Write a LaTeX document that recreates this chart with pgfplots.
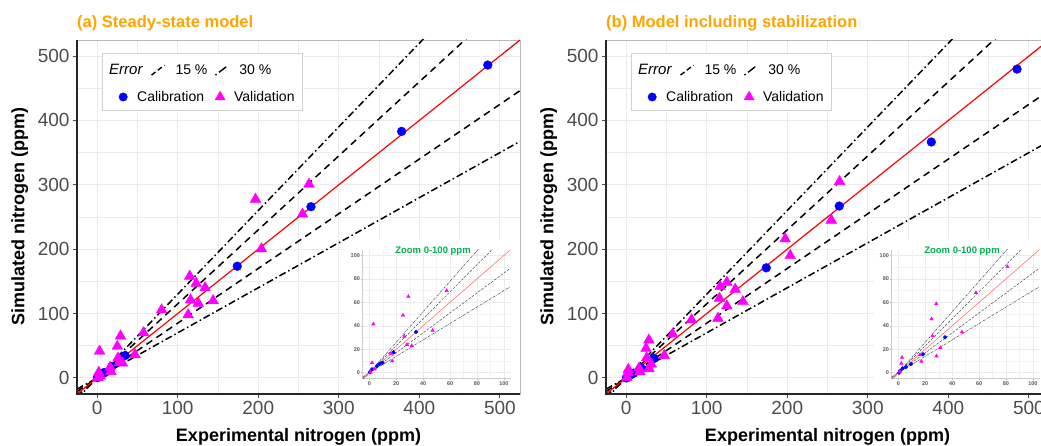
\documentclass[border=0pt]{standalone}
\usepackage{fontspec}
\setmainfont{Liberation Sans}
\usepackage{pgfplots}
\pgfplotsset{compat=1.18}
\usepackage{pgfplotstable}

\definecolor{ggblue}{RGB}{0,0,255}
\definecolor{ggmag}{RGB}{255,0,255}
\definecolor{ggorange}{RGB}{255,165,0}
\definecolor{gggreen}{RGB}{0,176,80}
\definecolor{gridc}{RGB}{235,235,235}
\definecolor{tickc}{RGB}{77,77,77}

% Panel (a): steady-state model
\pgfplotstableread{
x y
0.5 0.5
2 3
5.7 5.7
7.5 7.5
9.7 8.5
18 17.4
34.7 34.7
174 173.5
265.5 266
378 383
485 486
}\calibA
\pgfplotstableread{
x y
1 0.5
4 3
2 8.5
3 41.5
16 16.5
17 10
25 49
26 31
28 24
29 65
31.5 23
47 36
57.5 70
80 105.6
113 98
115 158
116 121
123 147
125.5 116
134 140
144 120
196.6 277.5
204 200.5
255 254.5
263 301
}\validA
% Panel (b): model including stabilization
\pgfplotstableread{
x y
0.5 0
1.2 1.7
3.2 3.7
5.7 4.9
9.4 7.4
18.3 15.7
34.7 30.2
174 171
264.6 267
378.9 366.5
485.3 479.8
}\calibB
\pgfplotstableread{
x y
1 1
2.2 8
2.7 13.1
16.1 15.3
17.1 9.7
24.7 45.8
25.5 31.3
28.2 58.8
28.4 14.2
31.2 21.3
47.3 34.7
57.7 68.2
81.1 90.4
114 92.6
115.9 123.7
116.8 141.8
125 148.6
125 111.8
135.4 137.7
145 118.5
197.5 216
203.7 190
254.7 245
265 305
}\validB

\pgfplotsset{
  mainax/.style={
    scale only axis, width=443pt, height=354pt, anchor=south west,
    xmin=-25, xmax=525, ymin=-25, ymax=525,
    xtick={0,100,...,500}, ytick={0,100,...,500},
    minor xtick={50,150,...,450}, minor ytick={50,150,...,450},
    grid=both,
    major grid style={draw=gridc, line width=0.9pt},
    minor grid style={draw=gridc, line width=0.45pt},
    tick pos=left, tick align=outside, major tick length=4pt, minor tick length=0pt,
    every tick/.style={draw=tickc, line width=0.9pt},
    axis line style={draw=gray!55, line width=0.8pt},
    tick label style={font=\fontsize{19}{19}\selectfont, text=tickc},
    /pgf/number format/assume math mode=true,
    xlabel={Experimental nitrogen (ppm)}, ylabel={Simulated nitrogen (ppm)},
    label style={font=\bfseries\fontsize{18}{18}\selectfont, text=black},
    xlabel style={at={(axis description cs:0.5,-0.135)}, anchor=base},
    ylabel style={at={(axis description cs:-0.129,0.5)}, anchor=center},
    clip=true,
  },
  insetax/.style={
    scale only axis, width=148pt, height=129pt, anchor=south west,
    xmin=-5, xmax=105, ymin=-5, ymax=105,
    xtick={0,20,...,100}, ytick={0,20,...,100},
    minor xtick={10,30,...,90}, minor ytick={10,30,...,90},
    grid=both,
    major grid style={draw=gridc, line width=0.5pt},
    minor grid style={draw=gridc!60!white, line width=0.3pt},
    axis lines=left, axis line style={-, draw=gray!40, line width=1.3pt},
    tick align=outside, major tick length=1.5pt, minor tick length=0pt,
    every tick/.style={draw=gray!60, line width=0.5pt},
    tick label style={font=\bfseries\fontsize{5.5}{5.5}\selectfont, text=gray!70!black, inner sep=1pt},
    /pgf/number format/assume math mode=true,
    clip=true,
  },
  legax/.style={
    hide axis, scale only axis, width=443pt, height=354pt, anchor=south west,
    xmin=0, xmax=1, ymin=0, ymax=1,
  },
  dashedl/.style={dash pattern=on 7pt off 5pt},
  dashdotl/.style={dash pattern=on 7pt off 3pt on 1.5pt off 3pt},
}

\newcommand{\panel}[4]{%
  \begin{axis}[mainax, at={(#1pt+77pt,52pt)}]
    \addplot[forget plot, black, line width=1.5pt, dashdotl] coordinates {(-25,-32.5) (525,682.5)};
    \addplot[forget plot, black, line width=1.5pt, dashedl] coordinates {(-25,-28.75) (525,603.75)};
    \addplot[forget plot, black, line width=1.5pt, dashedl] coordinates {(-25,-21.25) (525,446.25)};
    \addplot[forget plot, black, line width=1.5pt, dashdotl] coordinates {(-25,-17.5) (525,367.5)};
    \addplot[forget plot, red, line width=1.2pt] coordinates {(-25,-25) (525,525)};
    \addplot[forget plot, only marks, mark=*, mark size=4.4pt, color=ggblue] table {#3};
    \addplot[forget plot, only marks, mark=triangle*, mark size=6.2pt, color=ggmag] table {#4};
  \end{axis}
  \draw[black!85, line width=1.2pt] (#1+77,406) -- (#1+77,52) -- (#1+520,52);
  % legend frame
  \draw[gray!35, fill=white, line width=0.6pt] (#1+102,336) rectangle (#1+302,393);
  \begin{axis}[legax, at={(#1pt+77pt,52pt)},
      legend style={at={(axis description cs:0.0677,0.915)}, anchor=west, draw=none, fill=none,
        inner sep=0pt, legend columns=-1, font=\fontsize{14}{14}\selectfont,
        /tikz/every even column/.append style={column sep=0pt}}]
    \addlegendimage{empty legend}
    \addlegendentry{\fontsize{15}{15}\selectfont\itshape Error}
    \addlegendimage{legend image code/.code={\path[draw=none,fill=none] (-7pt,0pt) -- (22pt,0pt); \draw[black, line width=1.4pt, dash pattern=on 5pt off 3pt] (0pt,-5pt) -- (13pt,5pt);}}
    \addlegendentry{15 \%}
    \addlegendimage{legend image code/.code={\path[draw=none,fill=none] (-6pt,0pt) -- (22pt,0pt); \draw[black, line width=1.4pt, dash pattern=on 1.5pt off 3pt on 9pt off 3pt] (0pt,-5pt) -- (13pt,5pt);}}
    \addlegendentry{30 \%}
  \end{axis}
  \begin{axis}[legax, at={(#1pt+77pt,52pt)},
      legend style={at={(axis description cs:0.0722,0.839)}, anchor=west, draw=none, fill=none,
        inner sep=0pt, legend columns=-1, font=\fontsize{14}{14}\selectfont,
        /tikz/every even column/.append style={column sep=0pt}},
      legend image code/.code={\path[draw=none,fill=none] (-14pt,0pt) -- (12pt,0pt); \draw[mark repeat=2,mark phase=2,##1] plot coordinates {(-1pt,0pt) (0pt,0pt) (1pt,0pt)};}]
    \addlegendimage{only marks, mark=*, mark size=4.2pt, color=ggblue}
    \addlegendentry{Calibration}
    \addlegendimage{only marks, mark=triangle*, mark size=5.8pt, color=ggmag}
    \addlegendentry{Validation}
  \end{axis}
  % inset
  \fill[white] (#1+345,53.5) rectangle (#1+519.5,206);
  \begin{axis}[insetax, at={(#1pt+362.6pt,67.4pt)}]
    \addplot[forget plot, black!70, line width=0.5pt, dash pattern=on 2.5pt off 1pt on 0.6pt off 1pt] coordinates {(-5,-6.5) (105,136.5)};
    \addplot[forget plot, black!70, line width=0.5pt, dash pattern=on 2.5pt off 1.5pt] coordinates {(-5,-5.75) (105,120.75)};
    \addplot[forget plot, black!70, line width=0.5pt, dash pattern=on 2.5pt off 1.5pt] coordinates {(-5,-4.25) (105,89.25)};
    \addplot[forget plot, black!70, line width=0.5pt, dash pattern=on 2.5pt off 1pt on 0.6pt off 1pt] coordinates {(-5,-3.5) (105,73.5)};
    \addplot[forget plot, red!55, line width=0.6pt] coordinates {(-5,-5) (105,105)};
    \addplot[forget plot, only marks, mark=*, mark size=1.9pt, color=ggblue] table {#3};
    \addplot[forget plot, only marks, mark=triangle*, mark size=2pt, color=ggmag] table {#4};
  \end{axis}
  \node[font=\bfseries\fontsize{9.5}{9.5}\selectfont, text=gggreen] at (#1+433,195.3) {Zoom 0-100 ppm};
  \node[anchor=west, inner sep=0pt, font=\bfseries\fontsize{16.5}{16.5}\selectfont, text=ggorange] at (#1+77,422.7) {#2};
}

\begin{document}
\begin{tikzpicture}[x=1pt,y=1pt]
  \path[use as bounding box] (0,0) rectangle (1041,446);
  \clip (0,0) rectangle (1041,446);
  \fill[white] (0,0) rectangle (1041,446);
  \panel{0}{(a) Steady-state model}{\calibA}{\validA}
  \panel{529}{(b) Model including stabilization}{\calibB}{\validB}
\end{tikzpicture}
\end{document}
